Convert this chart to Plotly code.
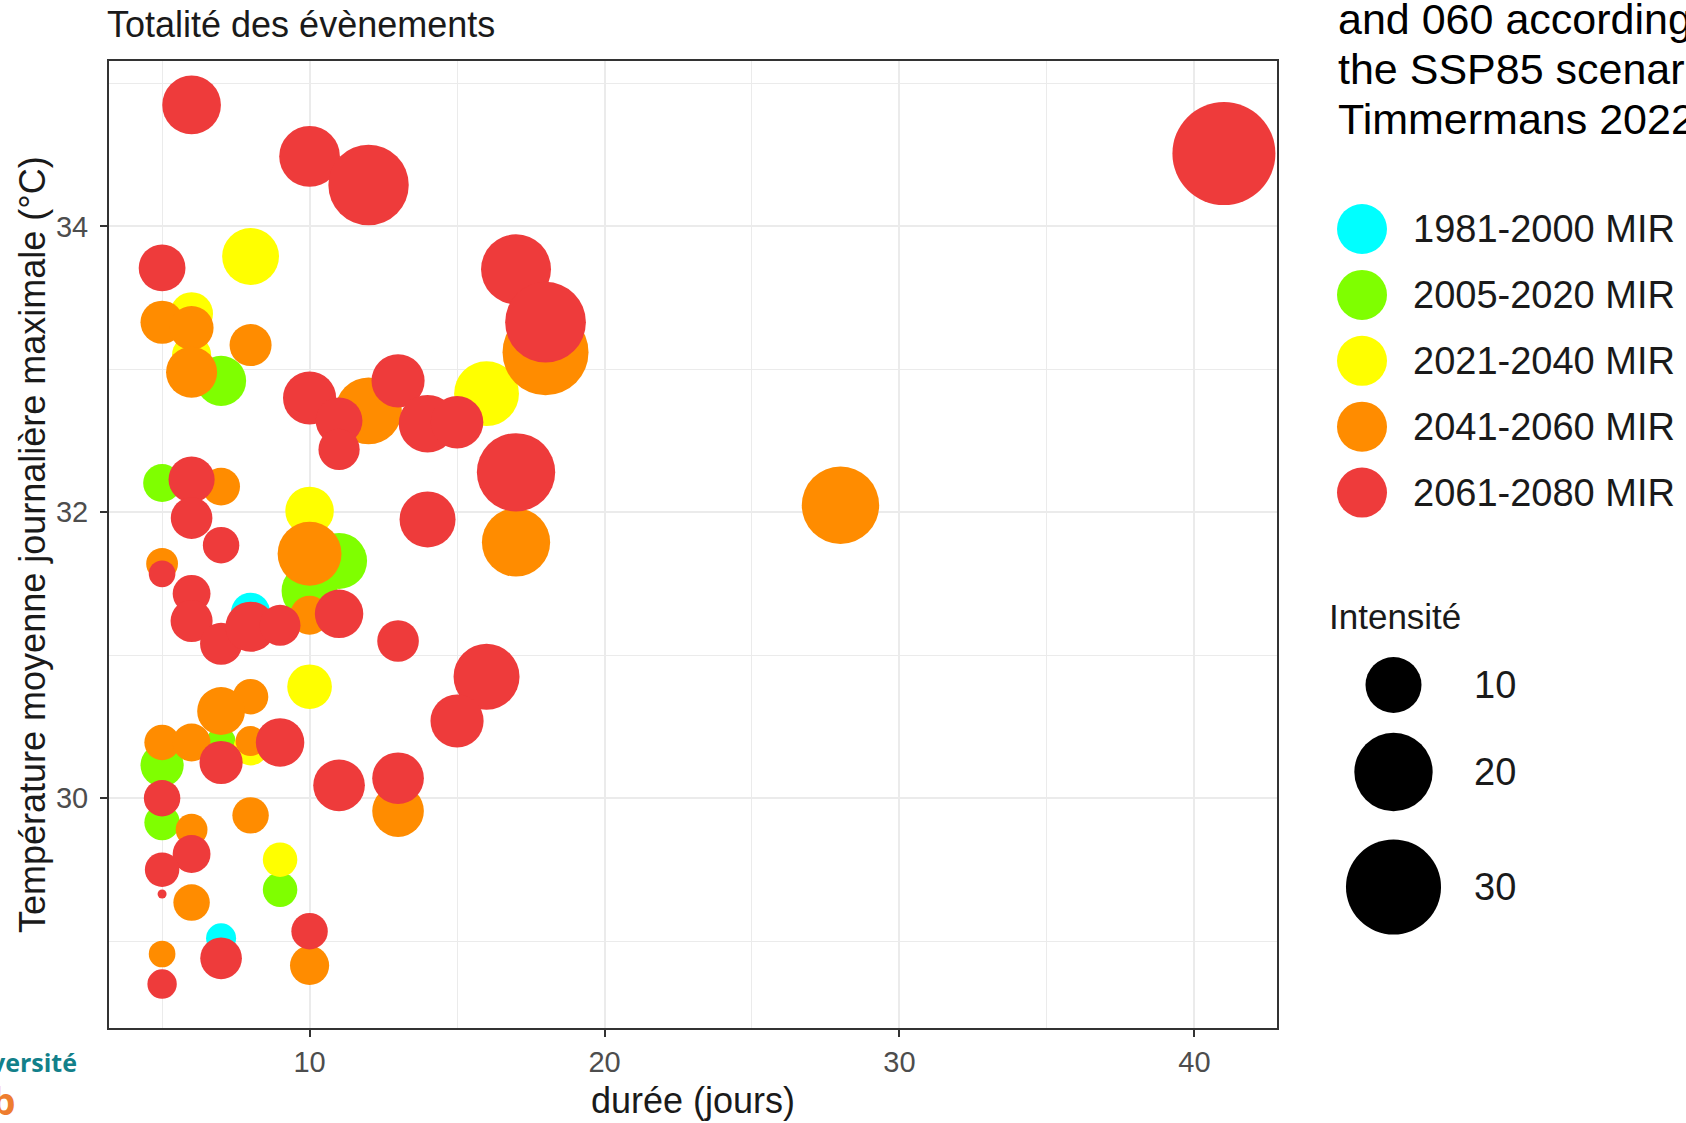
import numpy as np
import plotly.graph_objects as go

# ---------------- data ----------------
periods = ["1981-2000 MIR", "2005-2020 MIR", "2021-2040 MIR", "2041-2060 MIR", "2061-2080 MIR"]
colors = ["#00FFFF", "#7FFF00", "#FFFF00", "#FF8C00", "#EE3B3B"]

dur_1981 = [8, 7]
tmax_1981 = [31.30, 29.02]
int_1981 = [5.0, 3.2]

dur_2005 = [7, 5, 11, 10, 7, 5, 5, 9]
tmax_2005 = [32.92, 32.205, 31.66, 31.45, 30.40, 30.23, 29.83, 29.36]
int_2005 = [8.0, 4.7, 10.0, 10.0, 3.0, 6.0, 4.2, 4.0]

dur_2021 = [8, 6, 6, 16, 10, 10, 8, 9]
tmax_2021 = [33.79, 33.39, 33.10, 32.83, 32.01, 30.78, 30.35, 29.57]
int_2021 = [10.3, 5.9, 5.0, 13.5, 7.5, 6.4, 4.0, 4.0]

dur_2041 = [5, 6, 8, 6, 12, 18, 7, 17, 28, 10, 5, 10, 8, 7, 5, 6, 8, 8, 6, 13, 6, 5, 10]
tmax_2041 = [33.33, 33.29, 33.17, 32.98, 32.71, 33.12, 32.18, 31.79, 32.05, 31.71, 31.64, 31.28,
             30.71, 30.61, 30.39, 30.39, 30.40, 29.88, 29.78, 29.91, 29.27, 28.91, 28.83]
int_2041 = [6.0, 6.2, 5.7, 8.3, 14.3, 24.3, 4.7, 15.0, 19.5, 13.1, 3.5, 5.0,
            4.2, 7.3, 4.2, 4.7, 3.2, 4.4, 3.5, 8.5, 4.4, 2.7, 5.0]

dur_2061 = [6, 10, 12, 41, 5, 17, 18, 10, 13, 11, 11, 14, 15, 17, 6, 14, 6, 7, 5, 6, 6, 7, 8, 9,
            11, 13, 16, 15, 9, 7, 11, 13, 5, 6, 5, 5, 10, 7, 5]
tmax_2061 = [34.85, 34.49, 34.29, 34.51, 33.71, 33.70, 33.33, 32.80, 32.92, 32.64, 32.44, 32.62,
             32.63, 32.28, 32.23, 31.95, 31.96, 31.77, 31.57, 31.43, 31.24, 31.08, 31.20, 31.21,
             31.29, 31.10, 30.85, 30.54, 30.39, 30.25, 30.09, 30.14, 30.00, 29.61, 29.50, 29.33,
             29.07, 28.88, 28.70]
int_2061 = [11.0, 11.8, 21.1, 35.5, 7.0, 15.8, 21.3, 9.0, 9.0, 7.0, 5.5, 10.6,
            8.8, 20.0, 6.8, 10.0, 5.6, 4.4, 2.7, 4.7, 5.7, 5.7, 8.0, 5.4,
            7.5, 5.6, 14.0, 9.0, 7.5, 6.0, 8.5, 8.5, 4.4, 4.7, 4.0, 1.5,
            4.4, 5.6, 3.1]

size_breaks = [10, 20, 30]
x_ticks = [10, 20, 30, 40]
y_ticks = [30, 32, 34]

groups = [
    (dur_1981, tmax_1981, int_1981),
    (dur_2005, tmax_2005, int_2005),
    (dur_2021, tmax_2021, int_2021),
    (dur_2041, tmax_2041, int_2041),
    (dur_2061, tmax_2061, int_2061),
]

# ---------------- scales ----------------
W, H = 1686, 1123
all_int = int_1981 + int_2005 + int_2021 + int_2041 + int_2061
all_x = dur_1981 + dur_2005 + dur_2021 + dur_2041 + dur_2061
all_y = tmax_1981 + tmax_2005 + tmax_2021 + tmax_2041 + tmax_2061
IMIN, IMAX = min(all_int), max(all_int)
D_MIN, D_MAX = 9.0, 103.0


def size_px(v):
    v = np.asarray(v, dtype=float)
    return D_MIN + (D_MAX - D_MIN) * np.sqrt((v - IMIN) / (IMAX - IMIN))


def expand(lo, hi, f=0.05):
    d = (hi - lo) * f
    return [lo - d, hi + d]


FONT = "Liberation Sans, Arial, sans-serif"
TXT = "#1a1a1a"

fig = go.Figure()
for (xs, ys, vs), name, col in zip(groups, periods, colors):
    fig.add_trace(go.Scatter(
        x=xs, y=ys, mode="markers", name=name, showlegend=False,
        marker=dict(color=col, size=size_px(vs), sizemode="diameter", line=dict(width=0), opacity=1),
        xaxis="x", yaxis="y",
    ))

# ---------------- legends (overlay pixel axes) ----------------
leg_x, leg_y0, leg_dy, leg_d = 1362, 229, 65.9, 50
fig.add_trace(go.Scatter(
    x=[leg_x] * len(periods), y=[leg_y0 + i * leg_dy for i in range(len(periods))],
    mode="markers", marker=dict(color=colors, size=leg_d, line=dict(width=0), opacity=1),
    showlegend=False, hoverinfo="skip", xaxis="x2", yaxis="y2"))
size_leg_x = 1393.5
size_leg_y = [685, 772, 887]
fig.add_trace(go.Scatter(
    x=[size_leg_x] * len(size_breaks), y=size_leg_y,
    mode="markers", marker=dict(color="#000000", size=size_px(size_breaks), line=dict(width=0), opacity=1),
    showlegend=False, hoverinfo="skip", xaxis="x2", yaxis="y2"))

ann = []
for i, p in enumerate(periods):
    ann.append(dict(x=1411, y=leg_y0 + i * leg_dy, text=p, xref="x2", yref="y2",
                    xanchor="left", yanchor="middle", showarrow=False,
                    font=dict(family=FONT, size=38, color=TXT)))
ann.append(dict(x=1327, y=616, text="Intensité", xref="x2", yref="y2", xanchor="left",
                yanchor="middle", showarrow=False, font=dict(family=FONT, size=35, color=TXT)))
for b, yy in zip(size_breaks, size_leg_y):
    ann.append(dict(x=1472, y=yy, text=str(b), xref="x2", yref="y2", xanchor="left",
                    yanchor="middle", showarrow=False, font=dict(family=FONT, size=38, color=TXT)))

# title and axis titles
ann.append(dict(x=105, y=24, text="Totalité des évènements", xref="x2", yref="y2", xanchor="left",
                yanchor="middle", showarrow=False, font=dict(family=FONT, size=36, color=TXT)))
ann.append(dict(x=693, y=1100, text="durée (jours)", xref="x2", yref="y2", xanchor="center",
                yanchor="middle", showarrow=False, font=dict(family=FONT, size=36, color=TXT)))
ann.append(dict(x=32, y=545, text="Température moyenne journalière maximale (°C)", xref="x2", yref="y2",
                xanchor="center", yanchor="middle", textangle=-90, showarrow=False,
                font=dict(family=FONT, size=36, color=TXT)))

# slide text cut by the crop (top right)
for txt, yy in zip(["and 060 according", "the SSP85 scenari", "Timmermans 2022"], [19, 69, 119]):
    ann.append(dict(x=1336, y=yy, text=txt, xref="x2", yref="y2", xanchor="left", yanchor="middle",
                    showarrow=False, font=dict(family=FONT, size=43, color="black")))

# logo fragments bottom-left
ann.append(dict(x=79, y=1062, text="<b>Université</b>", xref="x2", yref="y2", xanchor="right",
                yanchor="middle", showarrow=False, font=dict(family="Open Sans, sans-serif", size=25, color="#12808A")))
ann.append(dict(x=18, y=1100, text="<b>ulb</b>", xref="x2", yref="y2", xanchor="right",
                yanchor="middle", showarrow=False, font=dict(family="Open Sans, sans-serif", size=38, color="#EE7D2F")))

axis_common = dict(
    showgrid=True, gridcolor="#EBEBEB", gridwidth=2,
    showline=True, mirror=True, linecolor="#333333", linewidth=2,
    ticks="outside", ticklen=7, tickwidth=2, tickcolor="#333333",
    tickfont=dict(family=FONT, size=29, color="#4D4D4D"),
    zeroline=False, fixedrange=True,
)

fig.update_layout(
    width=W, height=H,
    margin=dict(l=0, r=0, t=0, b=0),
    paper_bgcolor="white", plot_bgcolor="rgba(0,0,0,0)",
    xaxis=dict(domain=[109 / W, 1277 / W], range=expand(min(all_x), max(all_x)),
               tickmode="array", tickvals=x_ticks,
               minor=dict(tickvals=[5, 15, 25, 35], showgrid=True, gridcolor="#EBEBEB", gridwidth=1.3, ticks=""),
               ticklabelstandoff=0, anchor="y", **axis_common),
    yaxis=dict(domain=[1 - 1028 / H, 1 - 61 / H], range=expand(min(all_y), max(all_y)),
               tickmode="array", tickvals=y_ticks,
               minor=dict(tickvals=[29, 31, 33, 35], showgrid=True, gridcolor="#EBEBEB", gridwidth=1.3, ticks=""),
               ticklabelstandoff=6, anchor="x", **axis_common),
    xaxis2=dict(domain=[0, 1], range=[0, W], visible=False, fixedrange=True, anchor="y2"),
    yaxis2=dict(domain=[0, 1], range=[H, 0], visible=False, fixedrange=True, anchor="x2"),
    annotations=ann,
    showlegend=False,
)

fig.write_html("out.html", config={"displayModeBar": False},
               post_script="document.body.style.margin='0px';")
